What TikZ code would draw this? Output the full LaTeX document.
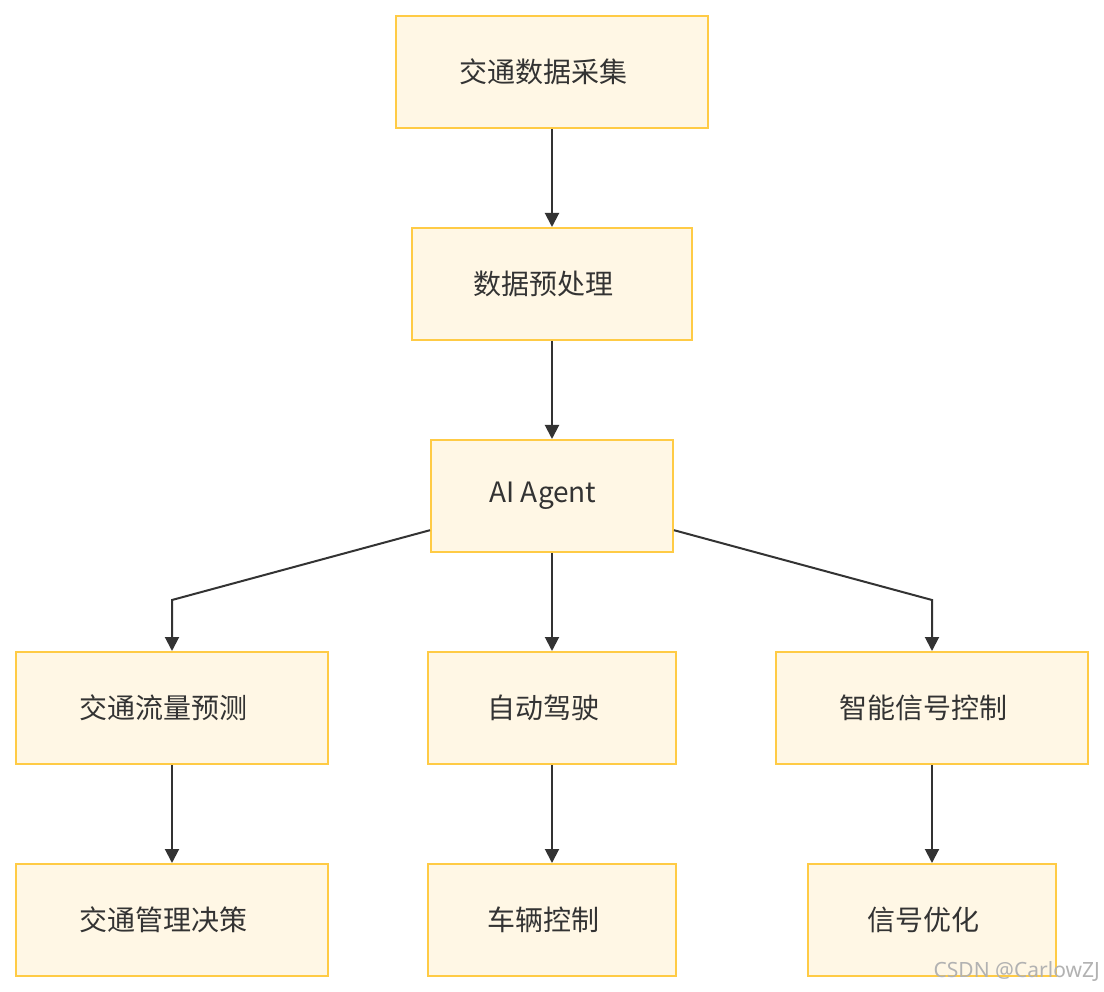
\documentclass[tikz,border=0pt]{standalone}
\usepackage{fontspec}
\setmainfont{Noto Sans CJK SC}
\newfontfamily\wmfont{Noto Sans}
\usetikzlibrary{arrows.meta,calc}
\definecolor{boxfill}{HTML}{FFF7E5}
\definecolor{boxline}{HTML}{FFCB45}
\definecolor{edgecol}{HTML}{333333}
\begin{document}
\begin{tikzpicture}[x=1pt,y=-1pt,
  box/.style={draw=boxline,fill=boxfill,line width=2pt,minimum height=112pt,inner sep=0pt,
    font=\fontsize{28}{32}\selectfont,text=edgecol,execute at end node={\hspace*{18pt}}},
  conn/.style={draw=edgecol,line width=2pt,-{Triangle[length=14pt,width=14pt]}}]
\useasboundingbox (0,0) rectangle (1104,992);
\fill[white] (0,0) rectangle (1104,992);
\node[box,minimum width=312pt] (collect) at (552,72) {交通数据采集};
\node[box,minimum width=280pt] (pre) at (552,284) {数据预处理};
\node[box,minimum width=242pt] (ai) at (552,496) {AI Agent};
\node[box,minimum width=312pt] (flow) at (172,708) {交通流量预测};
\node[box,minimum width=248pt] (auto) at (552,708) {自动驾驶};
\node[box,minimum width=312pt] (signal) at (932,708) {智能信号控制};
\node[box,minimum width=312pt] (mgmt) at (172,920) {交通管理决策};
\node[box,minimum width=248pt] (veh) at (552,920) {车辆控制};
\node[box,minimum width=248pt] (opt) at (932,920) {信号优化};
\draw[conn] (collect) -- (pre);
\draw[conn] (pre) -- (ai);
\draw[conn] ($(ai.south west)!0.2!(ai.north west)$) -- ($(flow.north)+(0,-51)$) -- (flow.north);
\draw[conn] (ai) -- (auto);
\draw[conn] ($(ai.south east)!0.2!(ai.north east)$) -- ($(signal.north)+(0,-51)$) -- (signal.north);
\draw[conn] (flow) -- (mgmt);
\draw[conn] (auto) -- (veh);
\draw[conn] (signal) -- (opt);
\node[anchor=east,text=black!30,font=\wmfont\fontsize{21}{24}\selectfont,inner sep=0pt] (wm) at (1100,972) {CSDN @CarlowZJ};
\end{tikzpicture}
\end{document}
